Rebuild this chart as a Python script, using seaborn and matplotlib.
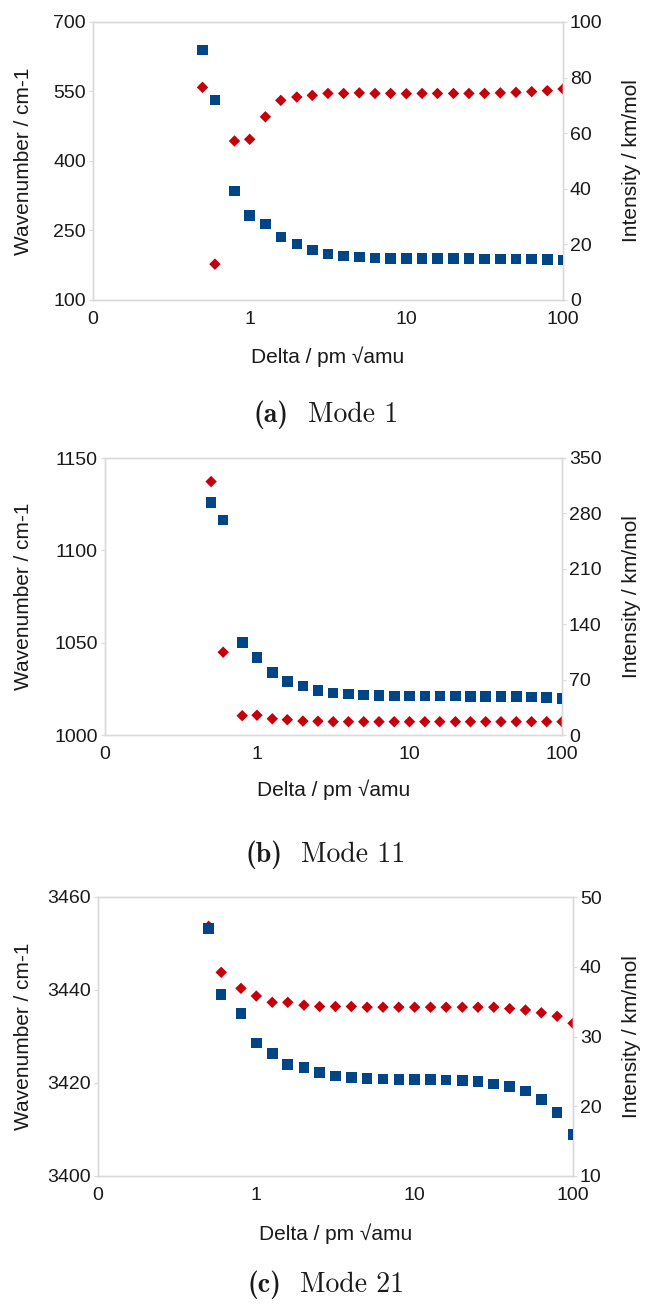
import numpy as np
import pandas as pd
import matplotlib
matplotlib.use("Agg")
import matplotlib.pyplot as plt
import seaborn as sns
from matplotlib.ticker import FixedLocator, FixedFormatter

# ---------------- data ----------------
delta = [0.5, 0.6, 0.8, 1.0, 1.26, 1.58, 2.0, 2.51, 3.16, 3.98, 5.01, 6.31, 7.94,
         10.0, 12.6, 15.8, 20.0, 25.1, 31.6, 39.8, 50.1, 63.1, 79.4, 100.0]

mode1_wavenumber = [640, 531.6, 335.7, 282.9, 264.1, 235.9, 220.7, 207.7, 199.0, 195.4,
                    193.2, 190.4, 189.6, 189.6, 189.0, 189.0, 189.0, 189.0, 188.9, 188.8,
                    188.6, 188.4, 188.0, 186.7]
mode1_intensity = [76.5, 12.9, 57.2, 57.8, 65.9, 71.8, 73.0, 73.6, 74.3, 74.3,
                   74.5, 74.3, 74.3, 74.2, 74.3, 74.3, 74.3, 74.3, 74.3, 74.5,
                   74.7, 74.95, 75.3, 75.9]

mode11_wavenumber = [1126.0, 1116.5, 1050.0, 1042.0, 1034.0, 1029.0, 1026.5, 1024.0, 1022.7, 1022.2,
                     1021.6, 1021.4, 1021.2, 1021.1, 1021.1, 1021.1, 1021.1, 1020.9, 1020.9, 1020.9,
                     1020.7, 1020.5, 1020.3, 1019.8]
mode11_intensity = [320.2, 104.6, 24.4, 25.0, 20.5, 19.3, 17.6, 17.4, 16.8, 16.8,
                    16.8, 16.8, 16.8, 16.8, 16.8, 16.8, 16.8, 16.8, 16.8, 16.8,
                    16.8, 16.8, 16.8, 16.8]

mode21_wavenumber = [3453.2, 3439.0, 3434.9, 3428.6, 3426.3, 3424.0, 3423.3, 3422.2, 3421.5, 3421.2,
                     3421.0, 3420.9, 3420.8, 3420.8, 3420.7, 3420.6, 3420.5, 3420.3, 3419.8, 3419.2,
                     3418.3, 3416.5, 3413.7, 3408.9]
mode21_intensity = [45.8, 39.2, 36.9, 35.8, 34.9, 34.9, 34.5, 34.3, 34.3, 34.3,
                    34.2, 34.2, 34.2, 34.2, 34.2, 34.2, 34.2, 34.2, 34.2, 34.0,
                    33.8, 33.4, 32.9, 31.9]

x_ticks = [0.1, 1, 10, 100]
x_ticklabels = ["0", "1", "10", "100"]

H = 1310.0
W = 645.0

panels = [
    dict(wn=mode1_wavenumber, it=mode1_intensity,
         lticks=[100, 250, 400, 550, 700], rticks=[0, 20, 40, 60, 80, 100],
         tag="(a)", name="Mode 1",
         box=(93, 22, 563, 300), xlab_top=346, cap_y=415, tag_r=289, name_l=308),
    dict(wn=mode11_wavenumber, it=mode11_intensity,
         lticks=[1000, 1050, 1100, 1150], rticks=[0, 70, 140, 210, 280, 350],
         tag="(b)", name="Mode 11",
         box=(104.5, 458, 562, 735), xlab_top=779, cap_y=855, tag_r=282, name_l=301),
    dict(wn=mode21_wavenumber, it=mode21_intensity,
         lticks=[3400, 3420, 3440, 3460], rticks=[10, 20, 30, 40, 50],
         tag="(c)", name="Mode 21",
         box=(98, 897, 573, 1176), xlab_top=1223, cap_y=1285, tag_r=281, name_l=300),
]

# ---------------- style ----------------
sns.set_theme(style="white")
plt.rcParams["font.family"] = ["Liberation Sans", "DejaVu Sans"]

BLUE = "#004586"
RED = "#c5000b"
FRAME = "#dadada"
TXT = "#1a1a1a"
FS_TICK = 14
FS_LAB = 15
FS_CAP = 20

fig = plt.figure(figsize=(W / 100, H / 100), dpi=100)

for p in panels:
    x0, y0, x1, y1 = p["box"]
    ax = fig.add_axes([x0 / W, 1 - y1 / H, (x1 - x0) / W, (y1 - y0) / H])
    ax2 = ax.twinx()
    df = pd.DataFrame({"delta": delta, "wn": p["wn"], "it": p["it"]})

    sns.scatterplot(data=df, x="delta", y="it", ax=ax2, marker="D", s=34,
                    color=RED, edgecolor="none", linewidth=0, zorder=2)
    sns.scatterplot(data=df, x="delta", y="wn", ax=ax, marker="s", s=58,
                    color=BLUE, edgecolor="none", linewidth=0, zorder=3)

    ax.set_zorder(ax2.get_zorder() + 1)
    ax.patch.set_visible(False)

    ax.set_xscale("log")
    ax.set_xlim(0.1, 100)
    ax.xaxis.set_major_locator(FixedLocator(x_ticks))
    ax.xaxis.set_major_formatter(FixedFormatter(x_ticklabels))
    ax.xaxis.set_minor_locator(FixedLocator([]))

    ax.set_ylim(p["lticks"][0], p["lticks"][-1])
    ax.set_yticks(p["lticks"])
    ax.set_yticklabels([str(v) for v in p["lticks"]])
    ax2.set_ylim(p["rticks"][0], p["rticks"][-1])
    ax2.set_yticks(p["rticks"])
    ax2.set_yticklabels([str(v) for v in p["rticks"]])

    ax.set_xlabel("Delta / pm √amu", fontsize=FS_LAB, color=TXT)
    ax.set_ylabel("Wavenumber / cm-1", fontsize=FS_LAB, color=TXT)
    ax2.set_ylabel("Intensity / km/mol", fontsize=FS_LAB, color=TXT)
    ax.xaxis.set_label_coords(0.5, 1 - p["xlab_top"] / H, transform=fig.transFigure)
    ax.yaxis.set_label_coords(33 / W, 1 - (y0 + y1) / 2 / H, transform=fig.transFigure)
    ax2.yaxis.set_label_coords(622 / W, 1 - (y0 + y1) / 2 / H, transform=fig.transFigure)
    ax.xaxis.label.set_x((x0 + x1) / 2 / W)

    for a in (ax, ax2):
        for s in a.spines.values():
            s.set_color(FRAME)
            s.set_linewidth(1.0)
        a.tick_params(axis="both", which="both", labelsize=FS_TICK, labelcolor=TXT,
                      color=FRAME, length=3, width=0.8, pad=2, direction="out")
        a.grid(False)
    ax.tick_params(axis="x", pad=5)

    # caption: bold tag + roman text in Computer Modern
    fig.text(p["tag_r"] / W, 1 - p["cap_y"] / H, p["tag"], ha="right", va="center",
             fontsize=FS_CAP, family="cmb10", color=TXT)
    fig.text(p["name_l"] / W, 1 - p["cap_y"] / H, p["name"], ha="left", va="center",
             fontsize=FS_CAP, family="cmr10", color=TXT)

fig.savefig("out.png", dpi=100)
